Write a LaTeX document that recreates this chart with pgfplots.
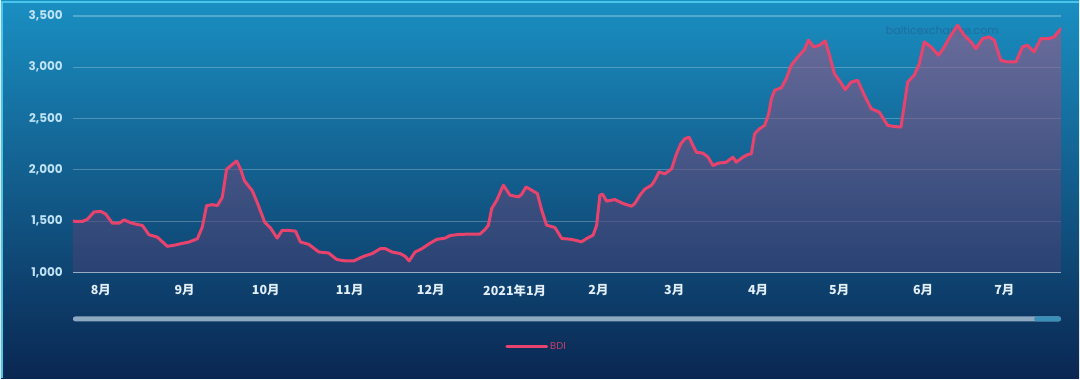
\documentclass[border=0pt]{standalone}
\usepackage{pgfplots}
\pgfplotsset{compat=1.18}
\usepackage{fontspec}
\setmainfont{Poppins}
\newfontfamily\cjk{Noto Sans CJK SC}
\definecolor{bgtop}{HTML}{1A8FC2}
\definecolor{bgmid}{HTML}{10629A}
\definecolor{bgbot}{HTML}{0A2752}
\definecolor{linec}{HTML}{E8436C}
\definecolor{filltop}{HTML}{A05A86}
\definecolor{fillbot}{HTML}{3A4275}
\definecolor{ytickc}{HTML}{BFE2F4}
\definecolor{xtickc}{HTML}{E2EEF8}
\definecolor{legtext}{HTML}{C83C68}
\definecolor{scrollc}{HTML}{8EA8BF}
\definecolor{scrollend}{HTML}{3A90B8}
\definecolor{edgec}{HTML}{48C6EC}
\definecolor{wmark}{HTML}{1F6E9E}
\pgfplotstableread{
x y
-10.4 1500
-6.8 1497
-4.9 1520
-2.5 1590
0 1595
1.8 1570
4.3 1480
6.8 1480
8.6 1513
11.1 1484
13.5 1468
15.4 1458
17.8 1368
20.9 1345
24.6 1255
27.0 1265
29.5 1280
32.6 1297
35.7 1329
37.5 1442
39.1 1652
41.2 1661
43.1 1652
44.9 1732
46.5 2006
48.0 2039
50.2 2087
51.7 2006
53.1 1894
56.0 1797
57.8 1684
60.6 1490
62.7 1435
65.2 1335
67.0 1410
69.5 1410
72.0 1403
73.8 1297
76.9 1274
80.6 1200
84.2 1190
87.3 1126
90.4 1113
93.5 1113
97.2 1158
100.3 1184
103.3 1232
105.2 1232
107.6 1200
110.7 1184
112.5 1158
114.0 1113
116.2 1200
118.7 1232
121.8 1287
124.2 1323
127.3 1335
129.2 1361
132.8 1372
140.2 1375
142.1 1421
143.3 1461
144.5 1623
146.4 1705
148.8 1851
151.3 1753
154.4 1737
155.6 1763
157.2 1834
159.3 1802
161.4 1769
163.0 1607
164.8 1461
167.9 1438
170.4 1331
173.4 1325
175.3 1315
177.7 1299
179.6 1331
182.0 1364
183.3 1461
184.5 1753
185.5 1763
187.0 1695
190.0 1711
193.1 1672
196.2 1646
197.4 1672
199.3 1753
201.1 1812
203.6 1851
204.8 1899
206.4 1981
208.5 1961
211.0 2010
212.8 2156
214.4 2254
215.9 2303
217.5 2319
218.9 2238
220.2 2172
222.6 2163
224.5 2124
226.3 2042
228.2 2065
231.2 2075
233.7 2124
234.9 2075
237.4 2124
239.2 2150
240.5 2156
241.7 2352
243.5 2400
245.4 2433
246.9 2547
247.9 2694
249.1 2775
251.6 2801
253.4 2889
255.2 3019
257.7 3101
260.1 3172
261.6 3264
263.6 3198
265.7 3215
267.8 3257
269.4 3117
271.2 2938
273.4 2856
275.2 2782
277.4 2856
279.8 2873
282.3 2726
284.8 2596
287.8 2563
290.9 2433
293.4 2423
295.8 2417
298.3 2857
300.7 2922
302.6 3036
304.4 3247
306.9 3198
309.7 3117
311.8 3198
313.9 3296
316.7 3410
319.2 3312
321.7 3247
323.5 3182
326.0 3280
328.4 3296
330.3 3264
332.7 3068
335.2 3052
338.3 3052
340.7 3198
342.6 3215
345.0 3150
347.5 3280
350.6 3280
352.4 3296
355.0 3378
}\bdi
\begin{document}
\begin{tikzpicture}[x=1pt,y=1pt]
\shade[top color=bgtop, middle color=bgmid, bottom color=bgbot] (0,0) rectangle (1080,378);
\draw[edgec, line width=2pt] (0,377) -- (1080,377);
\draw[edgec, line width=2pt] (1,0) -- (1,378);
% watermark
\node[text=wmark, font=\fontsize{11}{13}\selectfont, anchor=center] at (943,347) {balticexchange.com};
% scrollbar
\fill[scrollc, rounded corners=2.5pt] (72,57) rectangle (1062,62);
\fill[scrollend, rounded corners=2.5pt] (1035,57) rectangle (1062,62);
\begin{axis}[
  at={(72pt,106pt)}, anchor=south west,
  scale only axis, width=990pt, height=257pt,
  xmin=-10.33, xmax=354.98, ymin=1000, ymax=3500,
  xtick={0,31,61,92,122,153,184,212,243,273,304,334},
  xticklabels={{\cjk 8月},{\cjk 9月},{\cjk 10月},{\cjk 11月},{\cjk 12月},{\cjk 2021年1月},{\cjk 2月},{\cjk 3月},{\cjk 4月},{\cjk 5月},{\cjk 6月},{\cjk 7月}},
  ytick={1000,1500,2000,2500,3000,3500},
  scaled y ticks=false,
  /pgf/number format/1000 sep={,},
  /pgf/number format/assume math mode=true,
  axis line style={draw=none},
  tick style={draw=none},
  ymajorgrids,
  major grid style={color=white, opacity=0.25, line width=1.2pt},
  yticklabel style={font=\fontsize{12}{14}\selectfont\bfseries, text=ytickc, anchor=east, inner sep=0pt, xshift=-10pt},
  xticklabel style={font=\fontsize{12.5}{14}\selectfont\bfseries, text=xtickc, anchor=north, inner sep=0pt, yshift=-12pt},
  legend style={at={(0.4374,-0.288)}, anchor=west, draw=none, fill=none, inner sep=0pt,
    font=\fontsize{10}{12}\selectfont, text=legtext},
  legend image code/.code={\draw[#1] (0pt,0pt) -- (40pt,0pt);},
]
\addplot[draw=none, top color=filltop, bottom color=fillbot, fill opacity=0.6, forget plot] table[x=x,y=y]{\bdi} \closedcycle;
\draw[color=white, opacity=0.45, line width=1.6pt] (rel axis cs:0,0) -- (rel axis cs:1,0);
\addplot[color=linec, line width=3pt, line join=round, line cap=round, no markers] table[x=x,y=y]{\bdi};
\addlegendentry{BDI}
\end{axis}
\end{tikzpicture}
\end{document}
